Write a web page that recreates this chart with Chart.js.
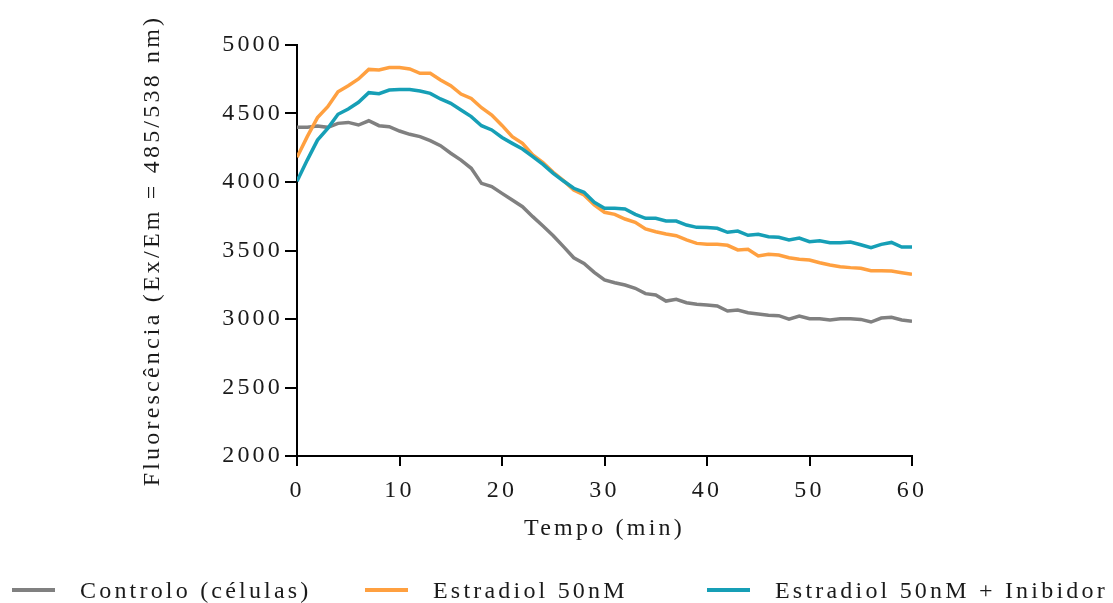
<!DOCTYPE html>
<html>
<head>
<meta charset="utf-8">
<script src="https://cdn.jsdelivr.net/npm/chart.js@4.4.1/dist/chart.umd.min.js"></script>
<style>
  html, body { margin: 0; padding: 0; background: #fff; }
  #wrap { position: relative; width: 1113px; height: 603px; overflow: hidden; }
  #c { position: absolute; left: 0; top: 0; }
  .lg { position: absolute; top: 576px; height: 28px; display: flex; align-items: center;
        font-family: "Liberation Serif", serif; font-size: 24px; letter-spacing: 3.2px; color: #1a1a1a; white-space: nowrap; }
  .lg .sw { display: inline-block; width: 43px; height: 4px; margin-right: 25px; }
</style>
</head>
<body>
<div id="wrap">
  <canvas id="c" width="1113" height="603"></canvas>
  <div id="legend"></div>
</div>
<script>
const times = [0,1,2,3,4,5,6,7,8,9,10,11,12,13,14,15,16,17,18,19,20,
  21,22,23,24,25,26,27,28,29,30,31,32,33,34,35,36,37,38,39,40,
  41,42,43,44,45,46,47,48,49,50,51,52,53,54,55,56,57,58,59,60];

const seriesNames = ["Controlo (células)", "Estradiol 50nM", "Estradiol 50nM + Inibidor"];

const controlo = [4400,4399,4409,4399,4428,4435,4416,4447,4411,4404,4372,4348,4331,4302,4265,4210,4160,4100,3990,3966,3917,
  3868,3820,3747,3679,3608,3528,3447,3406,3340,3285,3265,3248,3224,3185,3175,3131,3144,3119,3107,3102,
  3095,3058,3066,3046,3036,3027,3024,2999,3022,3002,3002,2993,3002,3002,2997,2978,3007,3012,2993,2983];

const estradiol = [4180,4331,4470,4550,4659,4703,4752,4822,4817,4835,4835,4825,4793,4793,4745,4703,4642,4610,4542,4489,4413,
  4331,4282,4197,4141,4071,4010,3942,3905,3832,3779,3764,3730,3706,3657,3637,3620,3608,3577,3552,3545,
  3545,3538,3504,3509,3460,3472,3467,3447,3436,3431,3411,3394,3382,3375,3370,3353,3353,3350,3338,3326];

const inibidor = [4005,4160,4306,4392,4494,4533,4582,4652,4645,4671,4675,4675,4664,4647,4606,4574,4525,4477,4411,4380,4325,
  4282,4241,4185,4129,4063,4007,3954,3925,3852,3808,3808,3803,3764,3735,3735,3715,3715,3686,3669,3668,
  3662,3633,3642,3611,3618,3601,3596,3577,3591,3564,3571,3557,3557,3562,3542,3520,3545,3559,3525,3525];

const yTicks = [2000,2500,3000,3500,4000,4500,5000];
const xTicks = [0,10,20,30,40,50,60];
const colors = ["#808080", "#FFA040", "#169FB6"];
const legendLeft = [12, 365, 707];

const FONT = "'Liberation Serif', serif";
const SPACING = '3.2px';

function pts(vals) { return times.map((t, i) => ({ x: t, y: vals[i] })); }

const spacingPlugin = {
  id: 'spacing',
  beforeUpdate(c) { c.ctx.letterSpacing = SPACING; },
  beforeLayout(c) { c.ctx.letterSpacing = SPACING; },
  beforeDraw(c) { c.ctx.letterSpacing = SPACING; }
};

const allSeries = [controlo, estradiol, inibidor];
new Chart(document.getElementById('c'), {
  type: 'line',
  data: {
    datasets: allSeries.map((vals, i) => ({
      label: seriesNames[i],
      data: pts(vals),
      borderColor: colors[i],
      backgroundColor: colors[i],
      borderWidth: 3.5,
      pointRadius: 0,
      tension: 0,
      fill: false,
      order: 3 - i
    }))
  },
  options: {
    responsive: false,
    animation: false,
    events: [],
    layout: { padding: { left: 0, right: 201, top: 45, bottom: 0 } },
    plugins: { legend: { display: false }, tooltip: { enabled: false } },
    scales: {
      x: {
        type: 'linear',
        min: 0, max: 60,
        afterBuildTicks(s) { s.ticks = xTicks.map(v => ({ value: v })); },
        afterFit(s) { s.height = 147; },
        grid: { display: true, drawOnChartArea: false, drawTicks: true, tickLength: 10, color: '#000', lineWidth: 2 },
        border: { display: true, color: '#000', width: 2 },
        ticks: { color: '#1a1a1a', font: { family: FONT, size: 24 }, padding: 10, maxRotation: 0,
                 callback: v => String(v) },
        title: { display: true, text: 'Tempo (min)', color: '#1a1a1a', font: { family: FONT, size: 24 }, padding: { top: 0, bottom: 60 } }
      },
      y: {
        type: 'linear',
        min: 2000, max: 5000,
        afterBuildTicks(s) { s.ticks = yTicks.map(v => ({ value: v })); },
        afterFit(s) { s.width = 297; },
        grid: { display: true, drawOnChartArea: false, drawTicks: true, tickLength: 12, color: '#000', lineWidth: 2 },
        border: { display: true, color: '#000', width: 2 },
        ticks: { color: '#1a1a1a', font: { family: FONT, size: 24 }, padding: 2,
                 callback: v => String(v) },
        title: { display: true, text: 'Fluorescência (Ex/Em = 485/538 nm)', color: '#1a1a1a', font: { family: FONT, size: 24 }, padding: { top: 138, bottom: 0 } }
      }
    }
  },
  plugins: [spacingPlugin]
});

const lg = document.getElementById('legend');
seriesNames.forEach((name, i) => {
  const d = document.createElement('div');
  d.className = 'lg';
  d.style.left = legendLeft[i] + 'px';
  const sw = document.createElement('span');
  sw.className = 'sw';
  sw.style.background = colors[i];
  const tx = document.createElement('span');
  tx.textContent = name;
  d.appendChild(sw);
  d.appendChild(tx);
  lg.appendChild(d);
});
</script>
</body>
</html>
